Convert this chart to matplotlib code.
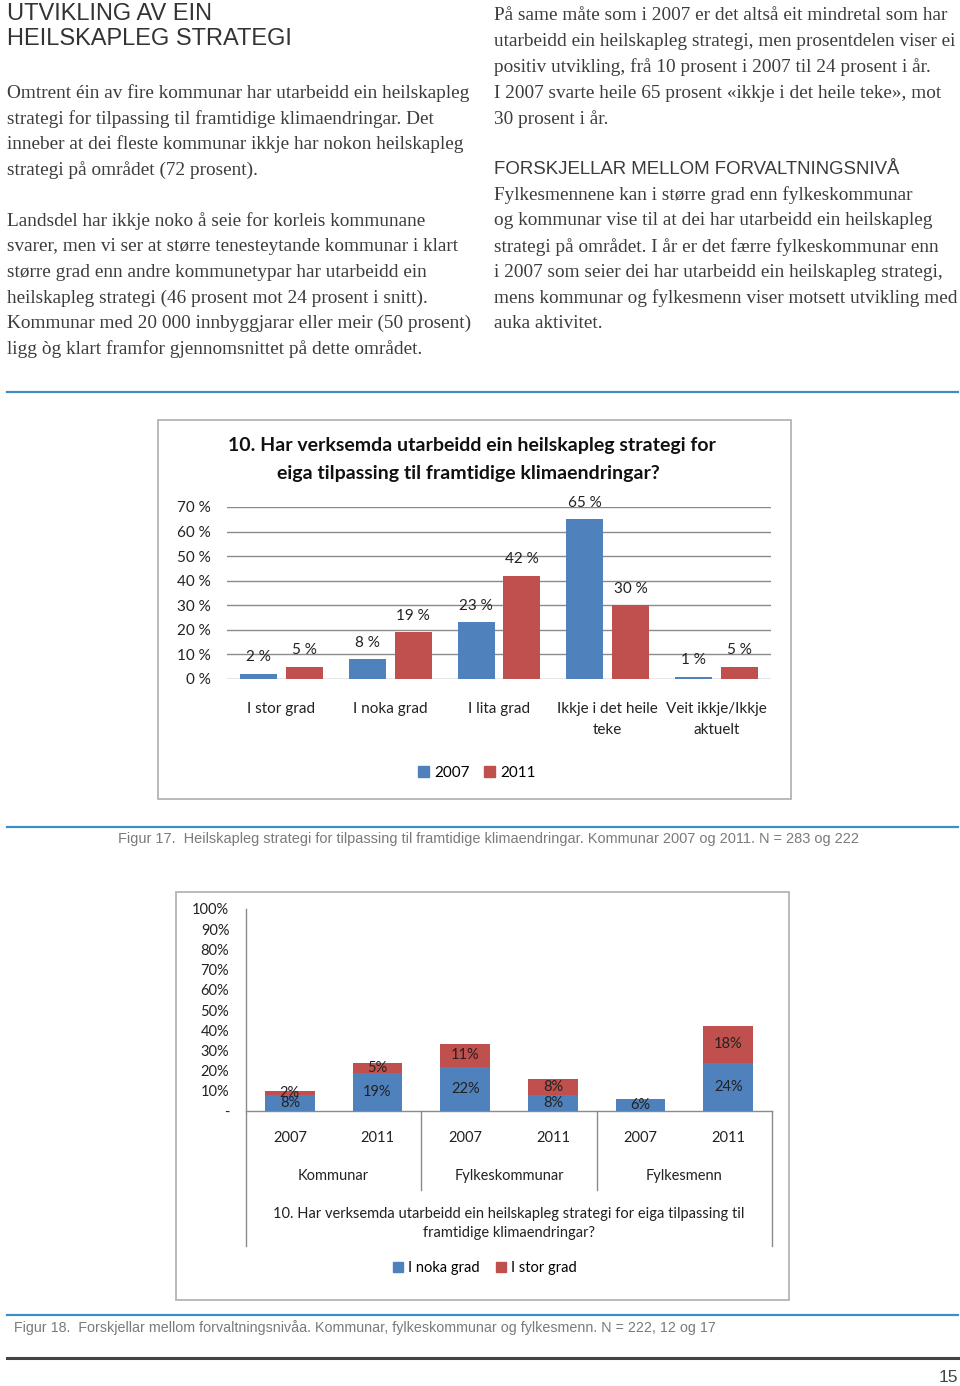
import matplotlib
matplotlib.use("Agg")
import matplotlib.pyplot as plt
from matplotlib.patches import Rectangle, Patch
from matplotlib import font_manager

# --- data ---
cats1 = ['I stor grad', 'I noka grad', 'I lita grad', 'Ikkje i det heile\nteke', 'Veit ikkje/Ikkje\naktuelt']
v2007 = [2, 8, 23, 65, 1]
v2011 = [5, 19, 42, 30, 5]
yticks1 = [0, 10, 20, 30, 40, 50, 60, 70]

groups2 = ['Kommunar', 'Fylkeskommunar', 'Fylkesmenn']
years2 = ['2007', '2011', '2007', '2011', '2007', '2011']
noka2 = [8, 19, 22, 8, 6, 24]
stor2 = [2, 5, 11, 8, 0, 18]
yticks2 = [0, 10, 20, 30, 40, 50, 60, 70, 80, 90, 100]

left_p1 = ["Omtrent éin av fire kommunar har utarbeidd ein heilskapleg",
           "strategi for tilpassing til framtidige klimaendringar. Det",
           "inneber at dei fleste kommunar ikkje har nokon heilskapleg",
           "strategi på området (72 prosent)."]
left_p2 = ["Landsdel har ikkje noko å seie for korleis kommunane",
           "svarer, men vi ser at større tenesteytande kommunar i klart",
           "større grad enn andre kommunetypar har utarbeidd ein",
           "heilskapleg strategi (46 prosent mot 24 prosent i snitt).",
           "Kommunar med 20 000 innbyggjarar eller meir (50 prosent)",
           "ligg òg klart framfor gjennomsnittet på dette området."]
right_p1 = ["På same måte som i 2007 er det altså eit mindretal som har",
            "utarbeidd ein heilskapleg strategi, men prosentdelen viser ei",
            "positiv utvikling, frå 10 prosent i 2007 til 24 prosent i år.",
            "I 2007 svarte heile 65 prosent «ikkje i det heile teke», mot",
            "30 prosent i år."]
right_p2 = ["Fylkesmennene kan i større grad enn fylkeskommunar",
            "og kommunar vise til at dei har utarbeidd ein heilskapleg",
            "strategi på området. I år er det færre fylkeskommunar enn",
            "i 2007 som seier dei har utarbeidd ein heilskapleg strategi,",
            "mens kommunar og fylkesmenn viser motsett utvikling med",
            "auka aktivitet."]

BLUE = '#4F81BD'
RED = '#C0504D'
W, H = 960, 1386

installed = {f.name for f in font_manager.fontManager.ttflist}
NARROW = 'Liberation Sans Narrow' if 'Liberation Sans Narrow' in installed else 'Liberation Sans'
SERIF = 'Liberation Serif'
CHART = 'Lato'
BODY = 13.85

fig = plt.figure(figsize=(9.6, 13.86), dpi=100)
fig.patch.set_facecolor('white')


def fx(x):
    return x / W


def fy(y):
    return 1 - y / H


def ptext(x, y, s, **kw):
    fig.text(fx(x), fy(y), s, va='center', **kw)


def hline(y, x0, x1, color, lw):
    fig.add_artist(plt.Line2D([fx(x0), fx(x1)], [fy(y), fy(y)], color=color, lw=lw,
                              transform=fig.transFigure))


def box(x0, y0, x1, y1):
    fig.add_artist(Rectangle((fx(x0), fy(y1)), fx(x1) - fx(x0), fy(y0) - fy(y1),
                             transform=fig.transFigure, fill=False, ec='#b4b4b4', lw=1.3))


# --- page text ---
ptext(7, 14, "UTVIKLING AV EIN", family='Liberation Sans', fontsize=17, color='#333333')
ptext(7, 39, "HEILSKAPLEG STRATEGI", family='Liberation Sans', fontsize=17, color='#333333')

for i, s in enumerate(left_p1):
    ptext(7, 93 + i * 25.7, s, family=SERIF, fontsize=BODY, color='#3c3c3c')
for i, s in enumerate(left_p2):
    ptext(7, 221 + i * 25.7, s, family=SERIF, fontsize=BODY, color='#3c3c3c')
for i, s in enumerate(right_p1):
    ptext(494, 15 + i * 26, s, family=SERIF, fontsize=BODY, color='#3c3c3c')
ptext(494, 169, "FORSKJELLAR MELLOM FORVALTNINGSNIVÅ", family='Liberation Sans', fontsize=13.4, color='#3c3c3c')
for i, s in enumerate(right_p2):
    ptext(494, 195 + i * 25.8, s, family=SERIF, fontsize=BODY, color='#3c3c3c')

hline(392, 7, 958, '#3d8ec4', 1.6)

# --- chart 1 ---
box(158, 420, 791, 799)
ptext(472, 446, "10. Har verksemda utarbeidd ein heilskapleg strategi for", ha='center',
      family=CHART, fontweight='bold', fontsize=14, color='#111111')
ptext(468, 473, "eiga tilpassing til framtidige klimaendringar?", ha='center',
      family=CHART, fontweight='bold', fontsize=14, color='#111111')

ax1 = fig.add_axes([fx(227), fy(679), fx(771) - fx(227), fy(507) - fy(679)])
x = range(len(cats1))
bw = 0.34
off = 0.21
ax1.bar([i - off for i in x], v2007, bw, color=BLUE, zorder=3)
ax1.bar([i + off for i in x], v2011, bw, color=RED, zorder=3)
for i in x:
    ax1.annotate(f"{v2007[i]} %", (i - off, v2007[i]), xytext=(0, 12), textcoords='offset points',
                 ha='center', va='center', family=CHART, fontsize=11, color='#222222')
    ax1.annotate(f"{v2011[i]} %", (i + off, v2011[i]), xytext=(0, 12), textcoords='offset points',
                 ha='center', va='center', family=CHART, fontsize=11, color='#222222')
ax1.set_xlim(-0.5, len(cats1) - 0.5)
ax1.set_ylim(0, 70)
ax1.set_yticks(yticks1)
ax1.set_yticklabels([f"{t} %" for t in yticks1], family=CHART, fontsize=11, color='#222222')
ax1.set_xticks(list(x))
ax1.set_xticklabels(cats1, family=CHART, fontsize=11, color='#222222', linespacing=1.6)
ax1.tick_params(length=0)
ax1.tick_params(axis='y', pad=11.5)
ax1.tick_params(axis='x', pad=16.5)
ax1.grid(axis='y', color='#8a8a8a', lw=1.0, zorder=0)
for sp in ax1.spines.values():
    sp.set_visible(False)
ax1.set_facecolor('none')
ax1.legend([Patch(color=BLUE), Patch(color=RED)], ['2007', '2011'], loc='center',
           bbox_to_anchor=(fx(477), fy(773)), bbox_transform=fig.transFigure, ncol=2,
           frameon=False, handlelength=0.75, handleheight=0.75, handletextpad=0.35,
           columnspacing=0.9, prop={'family': CHART, 'size': 11})

hline(827, 7, 958, '#3d8ec4', 1.6)
ptext(118, 839, "Figur 17.  Heilskapleg strategi for tilpassing til framtidige klimaendringar. Kommunar 2007 og 2011. N = 283 og 222",
      family=NARROW, fontsize=10.45, color='#7a7a7a')

# --- chart 2 ---
box(176, 892, 789, 1300)
ax2 = fig.add_axes([fx(246), fy(1111), fx(772) - fx(246), fy(909) - fy(1111)])
x2 = range(len(years2))
bw2 = 0.57
ax2.bar(x2, noka2, bw2, color=BLUE, zorder=3)
ax2.bar(x2, stor2, bw2, bottom=noka2, color=RED, zorder=3)
for i in x2:
    ax2.text(i, noka2[i] / 2, f"{noka2[i]}%", ha='center', va='center', family=CHART,
             fontsize=10.5, color='#222222', zorder=4)
    if stor2[i] > 0:
        ax2.text(i, noka2[i] + stor2[i] / 2, f"{stor2[i]}%", ha='center', va='center',
                 family=CHART, fontsize=10.5, color='#222222', zorder=4)
ax2.set_xlim(-0.5, len(years2) - 0.5)
ax2.set_ylim(0, 100)
ax2.set_yticks(yticks2)
ax2.set_yticklabels(['-' if t == 0 else f"{t}%" for t in yticks2], family=CHART,
                    fontsize=10.5, color='#222222')
ax2.set_xticks(list(x2))
ax2.set_xticklabels(years2, family=CHART, fontsize=10.5, color='#222222')
ax2.tick_params(length=0)
ax2.tick_params(axis='y', pad=12)
ax2.tick_params(axis='x', pad=14.5)
for sp in ax2.spines.values():
    sp.set_visible(False)
ax2.set_facecolor('none')
tr = ax2.get_xaxis_transform()
ax2.plot([-0.5, 5.5], [0, 0], color='#8a8a8a', lw=1.0, transform=tr, clip_on=False)
ax2.plot([-0.5, -0.5], [1, -0.67], color='#8a8a8a', lw=1.0, transform=tr, clip_on=False)
ax2.plot([5.5, 5.5], [0, -0.67], color='#8a8a8a', lw=1.0, transform=tr, clip_on=False)
for d in [1.5, 3.5]:
    ax2.plot([d, d], [0, -0.39], color='#8a8a8a', lw=1.0, transform=tr, clip_on=False)
for g, name in enumerate(groups2):
    ax2.text(2 * g + 0.5, -0.32, name, transform=tr, ha='center', va='center',
             family=CHART, fontsize=10.5, color='#222222')
ax2.text(2.5, -0.508, "10. Har verksemda utarbeidd ein heilskapleg strategi for eiga tilpassing til",
         transform=tr, ha='center', va='center', family=CHART, fontsize=10.5, color='#222222')
ax2.text(2.5, -0.603, "framtidige klimaendringar?", transform=tr, ha='center', va='center',
         family=CHART, fontsize=10.5, color='#222222')
ax2.legend([Patch(color=BLUE), Patch(color=RED)], ['I noka grad', 'I stor grad'], loc='center',
           bbox_to_anchor=(fx(485), fy(1268)), bbox_transform=fig.transFigure, ncol=2,
           frameon=False, handlelength=0.7, handleheight=0.7, handletextpad=0.35,
           columnspacing=1.1, prop={'family': CHART, 'size': 10.5})

hline(1315, 7, 958, '#3d8ec4', 1.6)
ptext(14, 1328, "Figur 18.  Forskjellar mellom forvaltningsnivåa. Kommunar, fylkeskommunar og fylkesmenn. N = 222, 12 og 17",
      family=NARROW, fontsize=10.3, color='#7a7a7a')
hline(1358, 7, 958, '#444444', 2.2)
ptext(958, 1378, "15", ha='right', family=NARROW, fontsize=12.5, color='#444444')

fig.savefig('out.png', dpi=100)
